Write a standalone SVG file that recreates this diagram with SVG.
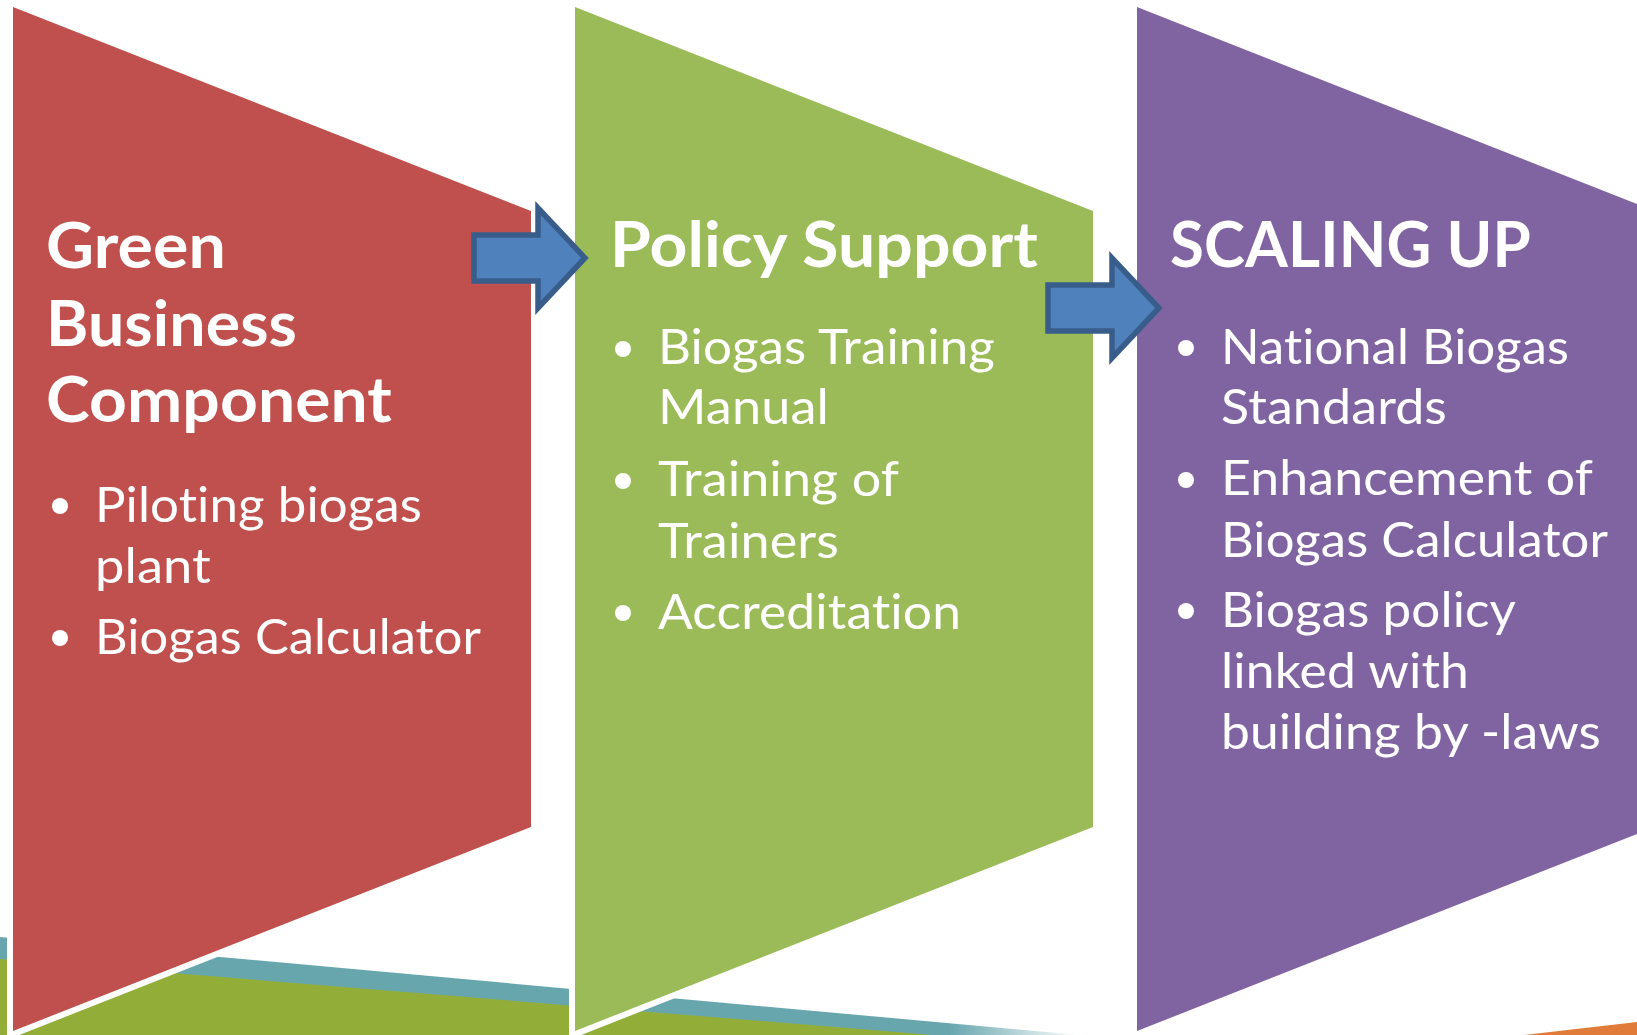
<svg xmlns="http://www.w3.org/2000/svg" width="1637" height="1035" viewBox="0 0 1637 1035">
  <defs>
    <style>
      .chev { stroke: #FFFFFF; stroke-width: 12; stroke-linejoin: miter; paint-order: stroke; }
      .title { font-family: Lato, "Liberation Sans", sans-serif; font-weight: 700; font-size: 63px; fill: #FFFFFF; font-variant-ligatures: none; font-feature-settings: "liga" 0, "clig" 0, "dlig" 0, "calt" 0; letter-spacing: 0.1px; }
      .body { font-family: Lato, "Liberation Sans", sans-serif; font-weight: 400; font-size: 49px; fill: #FFFFFF; font-variant-ligatures: none; font-feature-settings: "liga" 0, "clig" 0, "dlig" 0, "calt" 0; letter-spacing: 0.1px; }
      .bullet { fill: #FFFFFF; }
      .arrow { fill: #4F81BD; stroke: #385D8A; stroke-width: 5.5; stroke-linejoin: miter; }
    </style>
    <linearGradient id="tealFade" x1="0" y1="0" x2="1637" y2="0" gradientUnits="userSpaceOnUse">
      <stop offset="0" stop-color="#68A6AE"/>
      <stop offset="0.58" stop-color="#68A6AE"/>
      <stop offset="0.66" stop-color="#68A6AE" stop-opacity="0"/>
    </linearGradient>
    <linearGradient id="orangeFade" x1="1480" y1="0" x2="1637" y2="0" gradientUnits="userSpaceOnUse">
      <stop offset="0" stop-color="#E07B39" stop-opacity="0"/>
      <stop offset="0.35" stop-color="#E07B39"/>
      <stop offset="1" stop-color="#E07B39"/>
    </linearGradient>
  </defs>

  <rect x="0" y="0" width="1637" height="1035" fill="#FFFFFF"/>

  <g id="background">
    <polygon points="0,937 1090,1036 0,1036" fill="url(#tealFade)"/>
    <polygon points="0,959 945,1036 0,1036" fill="#92AE39"/>
    <polygon points="1480,1040 1637,1022 1637,1040" fill="url(#orangeFade)"/>
  </g>

  <g id="node-green-business">
    <polygon class="chev" points="13,7 531,211 531,827 13,1031" fill="#C0504D"/>
  </g>
  <g id="node-policy-support">
    <polygon class="chev" points="575,7 1093,211 1093,827 575,1031" fill="#9BBB59"/>
  </g>
  <g id="node-scaling-up">
    <polygon class="chev" points="1137,7 1655,211 1655,827 1137,1031" fill="#8064A2"/>
  </g>

  <g id="connectors">
    <path class="arrow" d="M474,235 H538 V208 L585,258 L538,308 V281 H474 Z"/>
    <path class="arrow" transform="translate(574,50)" d="M474,235 H538 V208 L585,258 L538,308 V281 H474 Z"/>
  </g>

  <g id="text-green-business">
    <text class="title" x="46" y="268" textLength="180" lengthAdjust="spacingAndGlyphs">Green</text>
    <text class="title" x="46" y="346" textLength="251" lengthAdjust="spacingAndGlyphs">Business</text>
    <text class="title" x="46" y="422" textLength="346" lengthAdjust="spacingAndGlyphs">Component</text>
    <circle class="bullet" cx="60" cy="506" r="8"/>
    <text class="body" x="95" y="522" textLength="327" lengthAdjust="spacingAndGlyphs">Piloting biogas</text>
    <text class="body" x="95" y="583" textLength="116" lengthAdjust="spacingAndGlyphs">plant</text>
    <circle class="bullet" cx="60" cy="638" r="8"/>
    <text class="body" x="95" y="654" textLength="386" lengthAdjust="spacingAndGlyphs">Biogas Calculator</text>
  </g>

  <g id="text-policy-support">
    <text class="title" x="610" y="267" textLength="428" lengthAdjust="spacingAndGlyphs">Policy Support</text>
    <circle class="bullet" cx="623" cy="349" r="8"/>
    <text class="body" x="658" y="364" textLength="337" lengthAdjust="spacingAndGlyphs">Biogas Training</text>
    <text class="body" x="658" y="424" textLength="171" lengthAdjust="spacingAndGlyphs">Manual</text>
    <circle class="bullet" cx="623" cy="481" r="8"/>
    <text class="body" x="658" y="496" textLength="241" lengthAdjust="spacingAndGlyphs">Training of</text>
    <text class="body" x="658" y="558" textLength="181" lengthAdjust="spacingAndGlyphs">Trainers</text>
    <circle class="bullet" cx="623" cy="613" r="8"/>
    <text class="body" x="658" y="629" textLength="303" lengthAdjust="spacingAndGlyphs">Accreditation</text>
  </g>

  <g id="text-scaling-up">
    <text class="title" x="1170" y="267" textLength="361" lengthAdjust="spacingAndGlyphs">SCALING UP</text>
    <circle class="bullet" cx="1186" cy="348" r="8"/>
    <text class="body" x="1221" y="364" textLength="348" lengthAdjust="spacingAndGlyphs">National Biogas</text>
    <text class="body" x="1221" y="424" textLength="226" lengthAdjust="spacingAndGlyphs">Standards</text>
    <circle class="bullet" cx="1186" cy="480" r="8"/>
    <text class="body" x="1221" y="495" textLength="372" lengthAdjust="spacingAndGlyphs">Enhancement of</text>
    <text class="body" x="1221" y="557" textLength="387" lengthAdjust="spacingAndGlyphs">Biogas Calculator</text>
    <circle class="bullet" cx="1186" cy="611" r="8"/>
    <text class="body" x="1221" y="627" textLength="295" lengthAdjust="spacingAndGlyphs">Biogas policy</text>
    <text class="body" x="1221" y="688" textLength="248" lengthAdjust="spacingAndGlyphs">linked with</text>
    <text class="body" x="1221" y="749" textLength="380" lengthAdjust="spacingAndGlyphs">building by -laws</text>
  </g>
</svg>
